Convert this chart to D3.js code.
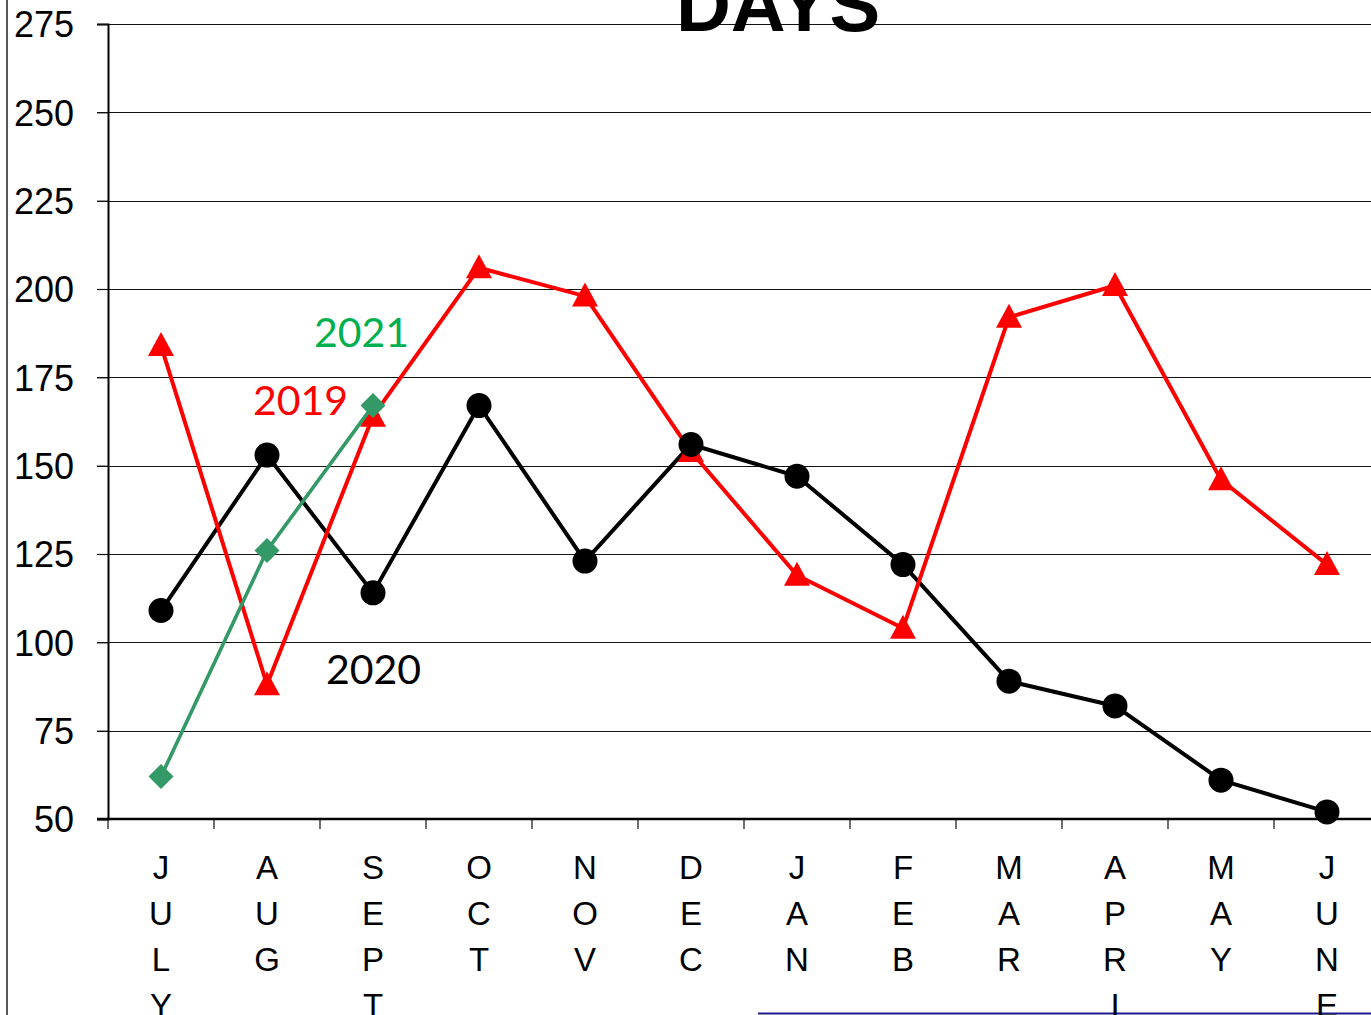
<!DOCTYPE html>
<html>
<head>
<meta charset="utf-8">
<script src="https://cdn.jsdelivr.net/npm/d3@7"></script>
<style>
  html, body { margin: 0; padding: 0; background: #fff; overflow: hidden; }
  svg { display: block; }
</style>
</head>
<body>
<script>
// Month categories (fiscal year, July to June)
const months = ["JULY", "AUG", "SEPT", "OCT", "NOV", "DEC", "JAN", "FEB", "MAR", "APRIL", "MAY", "JUNE"];
const yTicks = [50, 75, 100, 125, 150, 175, 200, 225, 250, 275];

// Days per month, by year
const days2019 = [184, 88, 164, 206, 198, 154, 119, 104, 192, 201, 146, 122];
const days2020 = [109, 153, 114, 167, 123, 156, 147, 122, 89, 82, 61, 52];
const days2021 = [62, 126, 167];

const W = 1371, H = 1015;
const svg = d3.select("body").append("svg").attr("width", W).attr("height", H);

const x = d3.scaleBand().domain(months).range([108, 1380]);
const y = d3.scaleLinear().domain([50, 275]).range([819, 24]);
const cx = m => x(m) + x.bandwidth() / 2;

// outer frame edge
svg.append("line").attr("x1", 7).attr("x2", 7).attr("y1", 0).attr("y2", H)
  .attr("stroke", "#222").attr("stroke-width", 1.5);
svg.append("line").attr("x1", 758).attr("x2", W).attr("y1", 1013.5).attr("y2", 1013.5)
  .attr("stroke", "#1c1c8a").attr("stroke-width", 2);

// horizontal gridlines
svg.append("g").selectAll("line").data(yTicks.filter(t => t > 50)).join("line")
  .attr("x1", 97).attr("x2", W)
  .attr("y1", d => Math.round(y(d)) + 0.5).attr("y2", d => Math.round(y(d)) + 0.5)
  .attr("stroke", "#111").attr("stroke-width", 1.2);

// y axis
const yAxis = svg.append("g").attr("transform", "translate(108,0)")
  .call(d3.axisLeft(y).tickValues(yTicks).tickSize(11).tickPadding(23));
yAxis.select(".domain").attr("stroke", "#000").attr("stroke-width", 2);
yAxis.selectAll(".tick line").attr("stroke", "#111").attr("stroke-width", 1.2);
yAxis.selectAll(".tick text")
  .attr("font-family", "'Liberation Sans', Arial, sans-serif")
  .attr("font-size", 36).attr("fill", "#000").attr("dy", "0.36em");

// x axis with band-boundary ticks
const xAxisG = svg.append("g").attr("transform", "translate(0,819)");
xAxisG.append("line").attr("x1", 97).attr("x2", W).attr("y1", 0).attr("y2", 0)
  .attr("stroke", "#000").attr("stroke-width", 2.5);
xAxisG.selectAll("line.tk").data(months).join("line").attr("class", "tk")
  .attr("x1", d => x(d)).attr("x2", d => x(d)).attr("y1", 0).attr("y2", 10)
  .attr("stroke", "#111").attr("stroke-width", 1.2);

// stacked month labels
const lbl = svg.append("g")
  .attr("font-family", "'Liberation Sans', Arial, sans-serif")
  .attr("font-size", 33).attr("fill", "#000").attr("text-anchor", "middle");
months.forEach(m => {
  m.split("").forEach((ch, i) => {
    lbl.append("text").attr("x", cx(m)).attr("y", 879 + i * 46).text(ch);
  });
});

// title
svg.append("text").attr("x", 778).attr("y", 31).attr("text-anchor", "middle")
  .attr("font-family", "'Liberation Sans', Arial, sans-serif")
  .attr("font-weight", "bold").attr("font-size", 76).attr("fill", "#000").text("DAYS");

const line = d3.line().x((d, i) => cx(months[i])).y(d => y(d));

// series lines
svg.append("path").datum(days2020).attr("d", line)
  .attr("fill", "none").attr("stroke", "#000").attr("stroke-width", 4).attr("stroke-linejoin", "round");
svg.append("path").datum(days2019).attr("d", line)
  .attr("fill", "none").attr("stroke", "#ff0000").attr("stroke-width", 4).attr("stroke-linejoin", "round");

// 2019 triangles
svg.append("g").selectAll("path").data(days2019).join("path")
  .attr("transform", (d, i) => `translate(${cx(months[i])},${y(d)})`)
  .attr("d", "M0,-13.5 L13,10.5 L-13,10.5 Z").attr("fill", "#ff0000");

// 2020 circles
svg.append("g").selectAll("circle").data(days2020).join("circle")
  .attr("cx", (d, i) => cx(months[i])).attr("cy", d => y(d)).attr("r", 12.5).attr("fill", "#000");

// 2021 line and diamonds
svg.append("path").datum(days2021).attr("d", line)
  .attr("fill", "none").attr("stroke", "#339966").attr("stroke-width", 3.6);
svg.append("g").selectAll("path").data(days2021).join("path")
  .attr("transform", (d, i) => `translate(${cx(months[i])},${y(d)})`)
  .attr("d", "M0,-12.5 L12.5,0 L0,12.5 L-12.5,0 Z").attr("fill", "#339966");

// series labels
const sl = svg.append("g").attr("font-family", "Lato, 'Open Sans', sans-serif").attr("font-size", 41);
sl.append("text").attr("x", 314).attr("y", 347).attr("fill", "#00b050").text("2021");
sl.append("text").attr("x", 253).attr("y", 415).attr("fill", "#ff0000").text("2019");
sl.append("text").attr("x", 326).attr("y", 684).attr("fill", "#000").text("2020");
</script>
</body>
</html>
